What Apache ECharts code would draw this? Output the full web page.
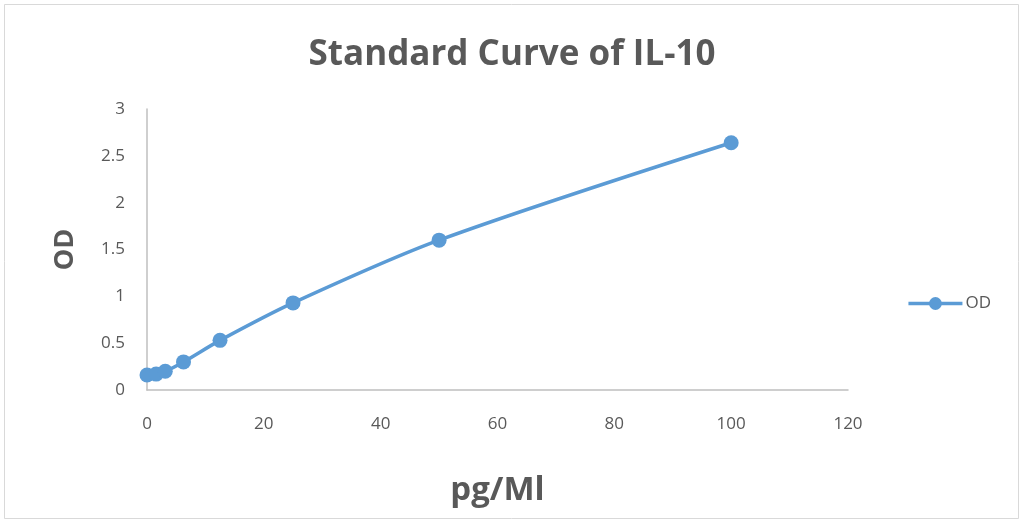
<!DOCTYPE html>
<html><head><meta charset="utf-8">
<script src="https://cdn.jsdelivr.net/npm/echarts@6/dist/echarts.min.js"></script>
<style>html,body{margin:0;padding:0;background:#fff}#c{width:1024px;height:523px}</style>
</head><body><div id="c"></div>
<script>
var xValues = [0, 1.5625, 3.125, 6.25, 12.5, 25, 50, 100];
var odValues = [0.16, 0.17, 0.2, 0.3, 0.53, 0.93, 1.6, 2.64];
var seriesName = 'OD';
var titleText = 'Standard Curve of IL-10';
var xName = 'pg/Ml';
var yName = 'OD';

var chart = echarts.init(document.getElementById('c'));
var txt = '#595959';
var font = 'Open Sans';
chart.setOption({
  animation: false,
  backgroundColor: '#fff',
  graphic: [{type:'rect', shape:{x:4.5,y:4.5,width:1014,height:514}, style:{fill:'none', stroke:'#d9d9d9', lineWidth:1}}],
  title: {text: titleText, left: 'center', top: 33, textStyle:{color: txt, fontFamily: font, fontWeight:'bold', fontSize: 35}},
  legend: {right: 28, top: 290, itemWidth: 54, itemHeight: 16, itemGap: 4,
    lineStyle: {width: 3.5},
    textStyle:{color: txt, fontFamily: font, fontSize: 17, padding: [0,0,0,-2]}, data:[seriesName]},
  grid: {left: 147, right: 176, top: 109, bottom: 133, containLabel: false, outerBoundsMode: 'none'},
  xAxis: {type:'value', min:0, max:120, interval:20, name: xName, nameLocation:'middle', nameGap: 84,
    nameTextStyle:{color: txt, fontFamily: font, fontWeight:'bold', fontSize: 33},
    axisLine:{lineStyle:{color:'#bfbfbf', width: 1.5}}, axisTick:{show:false}, splitLine:{show:false},
    axisLabel:{color: txt, fontFamily: font, fontSize: 17, margin: 26}},
  yAxis: {type:'value', min:0, max:3, interval:0.5, name: yName, nameLocation:'middle', nameGap: 68,
    nameTextStyle:{color: txt, fontFamily: font, fontWeight:'bold', fontSize: 27},
    axisLine:{show:true, lineStyle:{color:'#bfbfbf', width: 1.5}}, axisTick:{show:false}, splitLine:{show:false},
    axisLabel:{color: txt, fontFamily: font, fontSize: 17, margin: 22}},
  series: [{name: seriesName, type:'line', smooth: 0.3, data: xValues.map(function(x,i){return [x, odValues[i]];}),
    symbol:'circle', symbolSize: 15, lineStyle:{color:'#5b9bd5', width: 3.5}, itemStyle:{color:'#5b9bd5'}}]
});
</script></body></html>
